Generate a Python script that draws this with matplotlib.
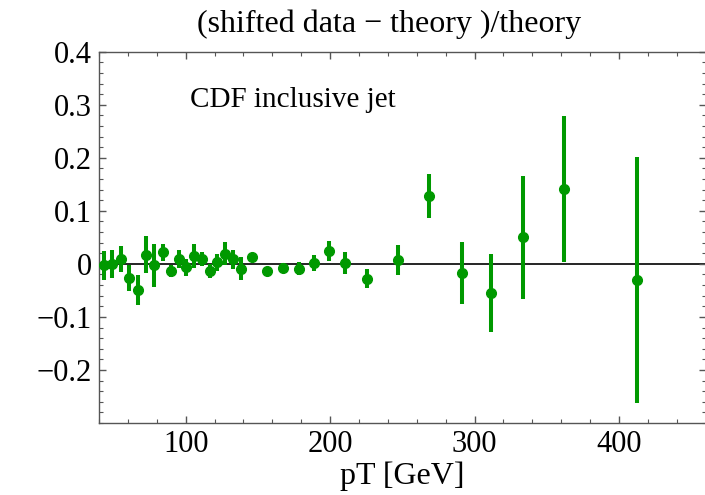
import numpy as np
import matplotlib.pyplot as plt
from matplotlib.ticker import MultipleLocator

# CDF inclusive jet: (shifted data - theory)/theory
pt = [43.5, 49.2, 55.4, 61.0, 66.8, 72.3, 78.3, 84.1, 89.6, 95.4,
      100.0, 105.7, 111.5, 116.8, 121.5, 127.2, 132.5, 138.3, 146.1, 156.6,
      167.1, 178.2, 188.8, 199.4, 210.2, 225.3, 247.1, 268.6, 291.2, 311.3,
      333.2, 362.0, 412.5]
ratio = [-0.003, 0.000, 0.009, -0.027, -0.049, 0.017, -0.003, 0.022, -0.014, 0.009,
         -0.006, 0.015, 0.009, -0.013, 0.003, 0.019, 0.009, -0.009, 0.012, -0.013,
         -0.007, -0.009, 0.001, 0.024, 0.001, -0.028, 0.007, 0.128, -0.017, -0.055,
         0.050, 0.141, -0.031]
err = [0.028, 0.026, 0.025, 0.025, 0.028, 0.035, 0.040, 0.016, 0.011, 0.017,
       0.016, 0.023, 0.013, 0.013, 0.016, 0.022, 0.018, 0.022, 0.006, 0.008,
       0.008, 0.012, 0.015, 0.019, 0.021, 0.018, 0.028, 0.042, 0.058, 0.074,
       0.116, 0.138, 0.232]

plt.rcParams['font.family'] = ['Liberation Serif', 'DejaVu Serif']
green = '#009900'

fig = plt.figure(figsize=(7.05, 4.95), dpi=100)
ax = fig.add_axes([0.1404, 0.1455, 0.8606, 0.7501])

ax.axhline(0, color='black', lw=1.2, zorder=1)
ax.errorbar(pt, ratio, yerr=err, fmt='o', color=green, ms=7,
            elinewidth=2.9, capsize=0, zorder=3)

ax.set_xlim(40, 460)
ax.set_ylim(-0.3, 0.4)
ax.xaxis.set_major_locator(MultipleLocator(100))
ax.xaxis.set_minor_locator(MultipleLocator(20))
ax.yaxis.set_major_locator(MultipleLocator(0.1))
ax.yaxis.set_minor_locator(MultipleLocator(0.02))
ax.set_yticks([-0.2, -0.1, 0, 0.1, 0.2, 0.3, 0.4])
ax.set_yticklabels(['\u22120.2', '\u22120.1', '0', '0.1', '0.2', '0.3', '0.4'])

ax.tick_params(which='both', direction='in', top=True, right=True,
               labelsize=22, color='#555555', pad=5)
ax.tick_params(which='major', length=5, width=1)
ax.tick_params(which='minor', length=3, width=0.8)
for s in ax.spines.values():
    s.set_color('#555555')
    s.set_linewidth(1.0)

ax.set_xlabel('pT [GeV]', fontsize=23, labelpad=2)
fig.text(0.552, 0.952, '(shifted data \u2212 theory )/theory', fontsize=23,
         ha='center', va='center')
ax.text(0.15, 0.87, 'CDF inclusive jet', fontsize=21, transform=ax.transAxes,
        ha='left', va='center')

plt.savefig('out.png', dpi=100)
